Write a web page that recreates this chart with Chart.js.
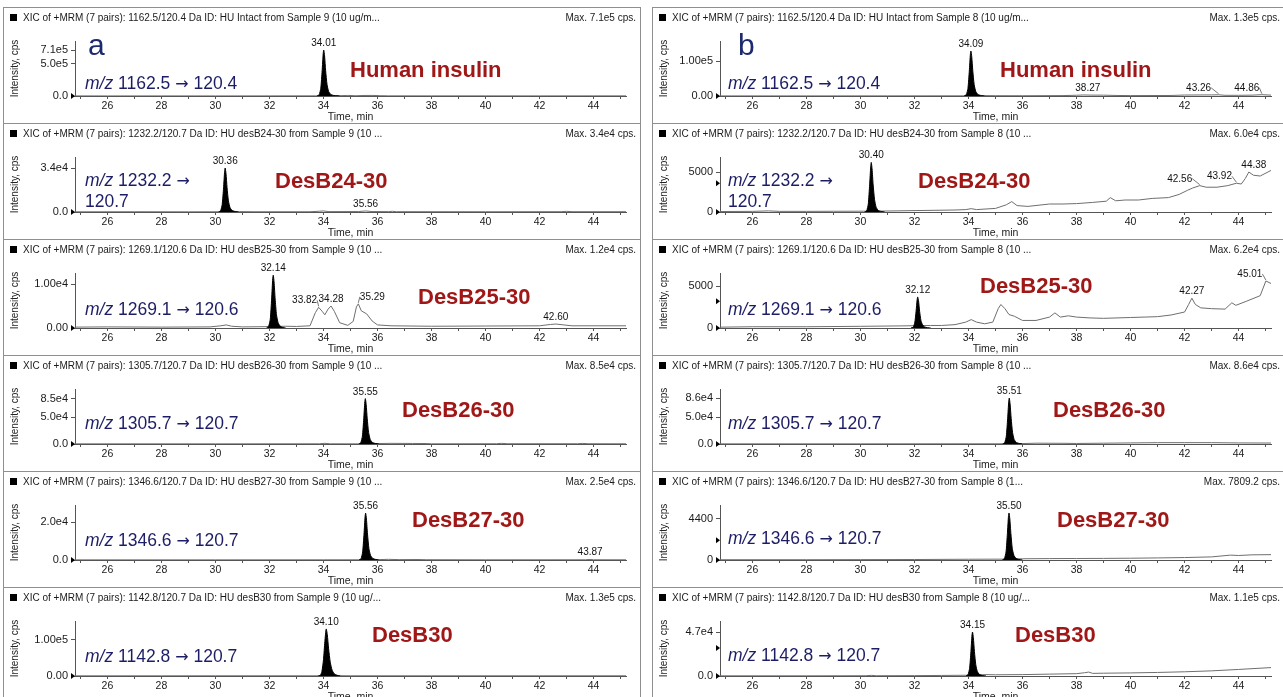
<!DOCTYPE html>
<html>
<head>
<meta charset="utf-8">
<title>XIC chromatograms</title>
<script src="https://cdn.jsdelivr.net/npm/chart.js@4.4.1/dist/chart.umd.min.js"></script>
<style>
html,body{margin:0;padding:0;background:#fff;}
body{width:1283px;height:697px;overflow:hidden;position:relative;font-family:"Liberation Sans",Arial,sans-serif;}
.panel{position:absolute;border:1px solid #8f8f8f;box-sizing:border-box;background:#fff;overflow:hidden;}
.panel canvas{position:absolute;left:0;top:0;}
.hdr{position:absolute;font-size:10px;color:#1a1a1a;white-space:nowrap;line-height:12px;}
.sq{display:inline-block;width:7px;height:7px;background:#000;margin-right:6px;vertical-align:0;}
.mx{position:absolute;font-size:10px;color:#1a1a1a;white-space:nowrap;line-height:12px;}
.lbl{position:absolute;white-space:nowrap;transform:translateY(-50%);}
.mz{color:#1d1d66;font-size:17.5px;line-height:20px;}
.mz .ar{font-family:"DejaVu Sans",sans-serif;font-size:16px;}
.cmp{color:#a01717;font-size:22px;font-weight:bold;}
.let{color:#1d2a6e;font-size:30px;}
</style>
</head>
<body>
<script>
// ---------- tick labels / categories ----------
const xTickValues = [25,26,27,28,29,30,31,32,33,34,35,36,37,38,39,40,41,42,43,44,45];
const xTickLabels = ['26','28','30','32','34','36','38','40','42','44'];
const compounds = ['Human insulin','DesB24-30','DesB25-30','DesB26-30','DesB27-30','DesB30'];
const transitions = [['1162.5','120.4'],['1232.2','120.7'],['1269.1','120.6'],['1305.7','120.7'],['1346.6','120.7'],['1142.8','120.7']];
const headersA = [
 'XIC of +MRM (7 pairs): 1162.5/120.4 Da ID: HU Intact from Sample 9 (10 ug/m...',
 'XIC of +MRM (7 pairs): 1232.2/120.7 Da ID: HU desB24-30 from Sample 9 (10 ...',
 'XIC of +MRM (7 pairs): 1269.1/120.6 Da ID: HU desB25-30 from Sample 9 (10 ...',
 'XIC of +MRM (7 pairs): 1305.7/120.7 Da ID: HU desB26-30 from Sample 9 (10 ...',
 'XIC of +MRM (7 pairs): 1346.6/120.7 Da ID: HU desB27-30 from Sample 9 (10 ...',
 'XIC of +MRM (7 pairs): 1142.8/120.7 Da ID: HU desB30 from Sample 9 (10 ug/...'];
const headersB = [
 'XIC of +MRM (7 pairs): 1162.5/120.4 Da ID: HU Intact from Sample 8 (10 ug/m...',
 'XIC of +MRM (7 pairs): 1232.2/120.7 Da ID: HU desB24-30 from Sample 8 (10 ...',
 'XIC of +MRM (7 pairs): 1269.1/120.6 Da ID: HU desB25-30 from Sample 8 (10 ...',
 'XIC of +MRM (7 pairs): 1305.7/120.7 Da ID: HU desB26-30 from Sample 8 (10 ...',
 'XIC of +MRM (7 pairs): 1346.6/120.7 Da ID: HU desB27-30 from Sample 8 (1...',
 'XIC of +MRM (7 pairs): 1142.8/120.7 Da ID: HU desB30 from Sample 8 (10 ug/...'];
const maxA = ['Max. 7.1e5 cps.','Max. 3.4e4 cps.','Max. 1.2e4 cps.','Max. 8.5e4 cps.','Max. 2.5e4 cps.','Max. 1.3e5 cps.'];
const maxB = ['Max. 1.3e5 cps.','Max. 6.0e4 cps.','Max. 6.2e4 cps.','Max. 8.6e4 cps.','Max. 7809.2 cps.','Max. 1.1e5 cps.'];

// ---------- y tick values / labels ----------
const a1YTicks=[0,5.0e5,7.1e5], a1YLabels=['0.0','5.0e5','7.1e5'];
const a2YTicks=[0,3.4e4],       a2YLabels=['0.0','3.4e4'];
const a3YTicks=[0,1.0e4],       a3YLabels=['0.00','1.00e4'];
const a4YTicks=[0,5.0e4,8.5e4], a4YLabels=['0.0','5.0e4','8.5e4'];
const a5YTicks=[0,2.0e4],       a5YLabels=['0.0','2.0e4'];
const a6YTicks=[0,1.0e5],       a6YLabels=['0.00','1.00e5'];
const b1YTicks=[0,1.0e5],       b1YLabels=['0.00','1.00e5'];
const b2YTicks=[0,5000],        b2YLabels=['0','5000'];
const b3YTicks=[0,5000],        b3YLabels=['0','5000'];
const b4YTicks=[0,5.0e4,8.6e4], b4YLabels=['0.0','5.0e4','8.6e4'];
const b5YTicks=[0,4400],        b5YLabels=['0','4400'];
const b6YTicks=[0,4.7e4],       b6YLabels=['0.0','4.7e4'];

// ---------- integrated peaks [time, intensity] ----------
const a1Peak=[[33.76,0],[33.84,2e4],[33.9,1.2e5],[33.95,3.9e5],[33.99,6.6e5],[34.01,7.1e5],[34.04,6.2e5],[34.08,3.9e5],[34.13,1.8e5],[34.19,7e4],[34.27,2.5e4],[34.38,8e3],[34.5,2e3],[34.6,0]];
const a2Peak=[[30.11,0],[30.19,1000],[30.25,5800],[30.3,18700],[30.34,31500],[30.36,34000],[30.39,29800],[30.43,18700],[30.48,8600],[30.54,3400],[30.62,1200],[30.73,400],[30.85,0]];
const a3Peak=[[31.89,0],[31.97,400],[32.03,2000],[32.08,6600],[32.12,11200],[32.14,12000],[32.17,10500],[32.21,6600],[32.26,3000],[32.32,1200],[32.4,400],[32.5,100],[32.6,0]];
const a4Peak=[[35.3,0],[35.38,2500],[35.44,14500],[35.49,47000],[35.53,79000],[35.55,85000],[35.58,74000],[35.62,47000],[35.67,21500],[35.73,8500],[35.81,3000],[35.92,1000],[36.05,0]];
const a5Peak=[[35.31,0],[35.39,700],[35.45,4300],[35.5,13800],[35.54,23200],[35.56,25000],[35.59,21800],[35.63,13800],[35.68,6300],[35.74,2500],[35.82,900],[35.93,300],[36.05,0]];
const a6Peak=[[33.8,0],[33.88,1500],[33.94,12000],[34.0,45000],[34.05,95000],[34.1,130000],[34.14,115000],[34.19,75000],[34.25,38000],[34.32,16000],[34.4,6000],[34.5,2000],[34.62,0]];
const b1Peak=[[33.84,0],[33.92,4000],[33.98,22000],[34.03,72000],[34.07,121000],[34.09,130000],[34.12,114000],[34.16,72000],[34.21,33000],[34.27,13000],[34.35,4600],[34.46,1500],[34.6,0]];
const b2Peak=[[30.15,0],[30.23,150],[30.29,1000],[30.34,3400],[30.38,5700],[30.40,6200],[30.43,5400],[30.47,3400],[30.52,1600],[30.58,600],[30.66,200],[30.77,60],[30.9,0]];
const b3Peak=[[31.87,0],[31.95,90],[32.01,600],[32.06,2000],[32.1,3400],[32.12,3700],[32.15,3250],[32.19,2000],[32.24,900],[32.3,360],[32.38,120],[32.48,40],[32.6,0]];
const b4Peak=[[35.26,0],[35.34,2500],[35.4,14500],[35.45,48000],[35.49,80000],[35.51,86000],[35.54,75000],[35.58,48000],[35.63,22000],[35.69,8500],[35.77,3000],[35.88,1000],[36.0,0]];
const b5Peak=[[35.25,0],[35.33,150],[35.39,850],[35.44,2800],[35.48,4650],[35.50,5000],[35.53,4400],[35.57,2800],[35.62,1250],[35.68,500],[35.76,180],[35.87,60],[36.0,0]];
const b6Peak=[[33.9,0],[33.98,1300],[34.04,8000],[34.09,26000],[34.13,44000],[34.15,47000],[34.18,41000],[34.22,26000],[34.27,12000],[34.33,4700],[34.41,1600],[34.52,500],[34.65,0]];

// ---------- chromatogram traces [time, intensity] ----------
const a1Trace=[[24.8,1500],[26,1200],[28,1500],[30,1200],[32,1800],[33.7,2500],[34.6,5000],[34.9,9000],[35.2,4000],[35.5,8000],[35.8,9000],[36.1,5000],[36.4,2500],[38,2000],[40,2200],[42,1800],[44,2200],[45.2,2000]];
const a2Trace=[[24.8,150],[27,200],[29,150],[30.1,200],[30.9,300],[31.5,200],[33.5,200],[33.85,600],[34.0,800],[34.2,300],[35.3,350],[35.56,800],[35.8,350],[36.4,300],[36.55,550],[36.7,250],[40,200],[42.8,250],[43.0,500],[43.2,250],[45.2,250]];
const a3Trace=[[24.8,200],[26,250],[28,200],[29.8,250],[30.2,500],[30.4,700],[30.6,400],[31,250],[31.8,300],[32.6,400],[33,350],[33.5,500],[33.7,3500],[33.82,4700],[33.95,3800],[34.05,3000],[34.17,4300],[34.28,5000],[34.4,3800],[34.6,1200],[34.9,600],[35.1,1500],[35.22,4800],[35.29,5500],[35.4,3900],[35.6,3200],[35.8,1600],[36,700],[36.5,500],[38,400],[40,450],[42,500],[42.4,800],[42.6,900],[42.9,700],[43.2,500],[45.2,500]];
const a4Trace=[[24.8,300],[30,300],[33.85,400],[34.05,1300],[34.25,400],[35.3,300],[36.05,900],[36.5,1200],[37.3,1000],[37.8,900],[38,400],[40.4,500],[40.6,1200],[40.8,500],[43.4,500],[43.6,1100],[43.8,500],[45.2,400]];
const a5Trace=[[24.8,80],[30,80],[34,100],[35.3,120],[36.05,200],[36.4,350],[36.8,200],[37.5,250],[37.8,150],[40,100],[43.7,120],[43.87,300],[44.0,130],[45.2,100]];
const a6Trace=[[24.8,500],[28,500],[30,600],[33.8,600],[34.6,800],[35,600],[38,600],[42,600],[45.2,600]];
const b1Trace=[[24.8,300],[28,300],[31,400],[33.8,500],[34.6,1200],[35,900],[36,800],[37.5,1200],[38,2200],[38.27,3000],[38.5,2600],[39,2400],[39.5,1500],[40,1200],[41.5,1500],[42,2800],[42.5,3000],[43,3200],[43.26,3500],[43.5,2000],[44,2000],[44.5,2500],[44.86,3800],[45.2,2500]];
const b2Trace=[[24.8,60],[26,80],[26.6,140],[27,80],[28,80],[29,90],[30.1,100],[30.9,120],[31.5,150],[32.5,200],[33.5,250],[33.9,300],[34.1,420],[34.3,300],[35,450],[35.4,900],[35.6,1300],[35.8,800],[36.2,700],[37,1000],[37.5,1000],[38,1050],[38.6,1200],[39.1,1350],[39.25,1800],[39.45,1400],[39.8,1500],[40.3,1500],[40.8,1700],[41.4,1800],[41.8,2200],[42.1,2700],[42.3,3000],[42.56,3300],[42.8,3100],[43.2,3100],[43.6,3300],[43.92,3600],[44.1,3500],[44.25,4200],[44.38,5000],[44.55,4600],[44.8,4500],[45.2,5200]];
const b3Trace=[[24.8,100],[26,150],[28,150],[30,200],[31.5,250],[32.6,300],[33,300],[33.5,400],[33.9,700],[34.1,1000],[34.3,700],[34.6,500],[34.9,700],[35.1,2300],[35.2,2800],[35.35,2300],[35.5,1600],[35.7,1400],[36,900],[36.5,900],[37,1300],[37.2,1800],[37.4,1300],[37.7,1450],[38,1300],[38.5,1200],[39,1150],[39.5,1200],[40,1250],[40.5,1300],[41,1350],[41.5,1550],[42,1900],[42.15,2800],[42.27,3550],[42.4,2800],[42.6,2400],[43,2300],[43.5,2250],[43.75,3000],[43.9,2700],[44.3,3200],[44.8,3850],[45.01,5600],[45.2,5300]];
const b4Trace=[[24.8,300],[30,300],[34,400],[35.26,400],[36,800],[36.5,1500],[37.5,1300],[38,1000],[39,1500],[40,2000],[41,2500],[42,2500],[43,2500],[44,2000],[45.2,1800]];
const b5Trace=[[24.8,30],[28,30],[30,40],[32,50],[34,80],[35.25,90],[36,130],[37,150],[38,160],[39,170],[40,190],[41,220],[42,260],[43,330],[43.7,520],[44,480],[44.5,550],[45.2,570]];
const b6Trace=[[24.8,200],[28,200],[30.2,300],[30.4,700],[30.6,300],[32,400],[33,600],[33.9,800],[34.65,1500],[35,1300],[36,1500],[37,2000],[38,2500],[38.3,3500],[38.45,4200],[38.6,2800],[39,3000],[40,3300],[41,3800],[42,4500],[43,5500],[44,7000],[45.2,9000]];

// ---------- peak apex labels [time, intensity] ----------
const a1Labels=[[34.01,7.1e5]];
const a2Labels=[[30.36,3.4e4],[35.56,900]];
const a3Labels=[[32.14,1.2e4],[33.82,4700],[34.28,5000],[35.29,5500],[42.60,900]];
const a4Labels=[[35.55,8.5e4]];
const a5Labels=[[35.56,2.5e4],[43.87,300]];
const a6Labels=[[34.10,1.3e5]];
const b1Labels=[[34.09,1.3e5],[38.27,3000],[43.26,3500],[44.86,3800]];
const b2Labels=[[30.40,6200],[42.56,3300],[43.92,3600],[44.38,5000]];
const b3Labels=[[32.12,3700],[42.27,3550],[45.01,5600]];
const b4Labels=[[35.51,8.6e4]];
const b5Labels=[[35.50,5000]];
const b6Labels=[[34.15,4.7e4]];

// ---------- y-axis markers (intensity) ----------
const aMarkers=[[0],[0],[0],[0],[0],[0]];
const bMarkers=[[0],[0,3600],[0,3200],[0],[0,2100],[0,3.0e4]];

// ---------- layout (positions / ranges only) ----------
const columns=[
  {left:3,  width:638, axisW:71, padR:14, mzX:85,  letter:'a', letterX:88},
  {left:652,width:633, axisW:67, padR:13, mzX:728, letter:'b', letterX:738}
];
const rowTop=i=>7+116*i;
const layoutA=[
  {yMax:8.5e5,  mzY:76, cmp:[350,63], dx:[0]},
  {yMax:4.25e4, mzY:67, cmp:[275,58], dx:[0,0], twoLine:true},
  {yMax:1.25e4, mzY:70, cmp:[418,58], dx:[0,-14,0,14,0]},
  {yMax:1.03e5, mzY:68, cmp:[402,55], dx:[0]},
  {yMax:2.93e4, mzY:69, cmp:[412,49], dx:[0,0]},
  {yMax:1.52e5, mzY:69, cmp:[372,48], dx:[0]}
];
const layoutB=[
  {yMax:1.59e5, mzY:76, cmp:[1000,63], dx:[0,4,-20,-15]},
  {yMax:6880,   mzY:67, cmp:[918,58],  dx:[0,-20,-17,5], twoLine:true},
  {yMax:6550,   mzY:70, cmp:[980,47],  dx:[0,0,-16]},
  {yMax:1.03e5, mzY:68, cmp:[1053,55], dx:[0]},
  {yMax:5850,   mzY:67, cmp:[1057,49], dx:[0]},
  {yMax:5.88e4, mzY:68, cmp:[1015,48], dx:[0]}
];

const dataA=[
 {peak:a1Peak,trace:a1Trace,yT:a1YTicks,yL:a1YLabels,lab:a1Labels},
 {peak:a2Peak,trace:a2Trace,yT:a2YTicks,yL:a2YLabels,lab:a2Labels},
 {peak:a3Peak,trace:a3Trace,yT:a3YTicks,yL:a3YLabels,lab:a3Labels},
 {peak:a4Peak,trace:a4Trace,yT:a4YTicks,yL:a4YLabels,lab:a4Labels},
 {peak:a5Peak,trace:a5Trace,yT:a5YTicks,yL:a5YLabels,lab:a5Labels},
 {peak:a6Peak,trace:a6Trace,yT:a6YTicks,yL:a6YLabels,lab:a6Labels}];
const dataB=[
 {peak:b1Peak,trace:b1Trace,yT:b1YTicks,yL:b1YLabels,lab:b1Labels},
 {peak:b2Peak,trace:b2Trace,yT:b2YTicks,yL:b2YLabels,lab:b2Labels},
 {peak:b3Peak,trace:b3Trace,yT:b3YTicks,yL:b3YLabels,lab:b3Labels},
 {peak:b4Peak,trace:b4Trace,yT:b4YTicks,yL:b4YLabels,lab:b4Labels},
 {peak:b5Peak,trace:b5Trace,yT:b5YTicks,yL:b5YLabels,lab:b5Labels},
 {peak:b6Peak,trace:b6Trace,yT:b6YTicks,yL:b6YLabels,lab:b6Labels}];

const FONT='"Liberation Sans", Arial, sans-serif';
Chart.defaults.font.family=FONT;

const annotate={
  id:'annotate',
  afterDatasetsDraw(chart,args,o){
    const ctx=chart.ctx, xs=chart.scales.x, ys=chart.scales.y;
    ctx.save();
    ctx.font='10px '+FONT;
    ctx.fillStyle='#111'; ctx.strokeStyle='#555'; ctx.lineWidth=0.8;
    ctx.textAlign='center'; ctx.textBaseline='alphabetic';
    o.labels.forEach(([t,v],i)=>{
      const px=xs.getPixelForValue(t), py=ys.getPixelForValue(v);
      const dx=(o.dx&&o.dx[i])||0;
      const txt=t.toFixed(2);
      const tx=px+dx, ty=py-4;
      ctx.fillText(txt,tx,ty);
      if(dx<-6||dx>6){
        const w=ctx.measureText(txt).width;
        const ex=dx<0?tx+w/2:tx-w/2;
        ctx.beginPath(); ctx.moveTo(ex,ty-3); ctx.lineTo(px,py-1); ctx.stroke();
      }
    });
    ctx.fillStyle='#000';
    const ax=chart.chartArea.left;
    o.markers.forEach(v=>{
      const py=ys.getPixelForValue(v);
      ctx.beginPath(); ctx.moveTo(ax-4,py-3); ctx.lineTo(ax,py); ctx.lineTo(ax-4,py+3); ctx.closePath(); ctx.fill();
    });
    ctx.restore();
  }
};

function addLabel(cls,html,x,y){
  const d=document.createElement('div');
  d.className='lbl '+cls; d.innerHTML=html;
  d.style.left=x+'px'; d.style.top=y+'px';
  document.body.appendChild(d);
}

function buildPanel(ci,ri){
  const col=columns[ci];
  const lay=(ci===0?layoutA:layoutB)[ri];
  const dat=(ci===0?dataA:dataB)[ri];
  const T=rowTop(ri);
  const panel=document.createElement('div');
  panel.className='panel';
  panel.style.left=col.left+'px'; panel.style.top=T+'px';
  panel.style.width=col.width+'px'; panel.style.height='117px';
  const cv=document.createElement('canvas');
  const cw=col.width-2, ch=115;
  cv.width=cw; cv.height=ch; cv.style.width=cw+'px'; cv.style.height=ch+'px';
  panel.appendChild(cv);
  const hdr=document.createElement('div');
  hdr.className='hdr'; hdr.style.left='6px'; hdr.style.top='4px';
  hdr.innerHTML='<span class="sq"></span>'+(ci===0?headersA:headersB)[ri];
  panel.appendChild(hdr);
  const mx=document.createElement('div');
  mx.className='mx'; mx.style.right='4px'; mx.style.top='4px';
  mx.textContent=(ci===0?maxA:maxB)[ri];
  panel.appendChild(mx);
  document.body.appendChild(panel);

  new Chart(cv,{
    type:'line',
    data:{datasets:[
      {data:dat.trace.map(([x,y])=>({x,y})),borderColor:'#6e6e6e',borderWidth:1,pointRadius:0,tension:0,fill:false,order:2},
      {data:dat.peak.map(([x,y])=>({x,y})),borderColor:'#000',backgroundColor:'#000',borderWidth:1,pointRadius:0,tension:0.2,fill:'origin',order:1}
    ]},
    options:{
      responsive:false,animation:false,events:[],
      layout:{padding:{left:0,right:col.padR,top:33,bottom:0}},
      plugins:{legend:{display:false},tooltip:{enabled:false},
        annotate:{labels:dat.lab,dx:lay.dx,markers:(ci===0?aMarkers:bMarkers)[ri]}},
      scales:{
        x:{type:'linear',min:24.8,max:45.2,
          afterBuildTicks:s=>{s.ticks=xTickValues.map(v=>({value:v}));},
          afterFit:s=>{s.height=27;},
          ticks:{autoSkip:false,maxRotation:0,padding:1,color:'#1a1a1a',font:{size:10.5},
            callback:v=>xTickLabels.includes(String(v))?String(v):''},
          grid:{drawOnChartArea:false,drawTicks:true,tickLength:3,color:'#555'},
          border:{color:'#555',width:1},
          title:{display:true,text:'Time, min',color:'#1a1a1a',font:{size:10.5},padding:0}},
        y:{type:'linear',min:0,max:lay.yMax,
          afterBuildTicks:s=>{s.ticks=dat.yT.map(v=>({value:v}));},
          afterFit:s=>{s.width=col.axisW;},
          ticks:{autoSkip:false,padding:3,color:'#1a1a1a',font:{size:11},
            callback:(v,i)=>dat.yL[i]},
          grid:{drawOnChartArea:false,drawTicks:true,tickLength:4,color:'#555'},
          border:{color:'#555',width:1},
          title:{display:true,text:'Intensity, cps',color:'#222',font:{size:10},padding:{top:5,bottom:0}}}
      }
    },
    plugins:[annotate]
  });

  const tr=transitions[ri];
  const arrow='<span class="ar">→</span>';
  const mzHtml=lay.twoLine?'<i>m/z</i> '+tr[0]+' '+arrow+'<br>'+tr[1]:'<i>m/z</i> '+tr[0]+' '+arrow+' '+tr[1];
  addLabel('mz',mzHtml,col.mzX,T+lay.mzY);
  addLabel('cmp',compounds[ri],lay.cmp[0],T+lay.cmp[1]);
  if(ri===0) addLabel('let',col.letter,col.letterX,T+38);
}

for(let ci=0;ci<2;ci++) for(let ri=0;ri<6;ri++) buildPanel(ci,ri);
</script>
</body>
</html>
